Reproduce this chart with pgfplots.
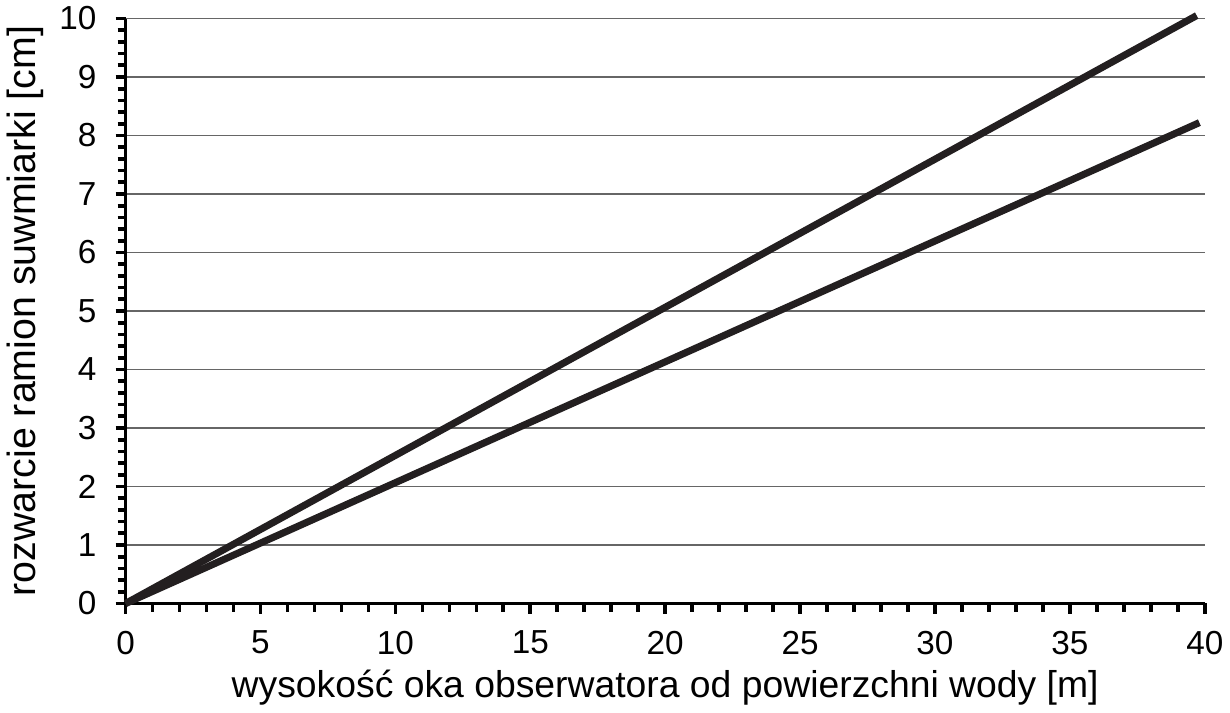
\documentclass[border=0pt]{standalone}
\usepackage{pgfplots}
\pgfplotsset{compat=1.18}
\usepackage{fontspec}
\setmainfont{Liberation Sans}
\definecolor{lineblk}{HTML}{231F20}
\begin{document}
\begin{tikzpicture}
\begin{axis}[
  scale only axis,
  width=535pt, height=290pt,
  xmin=0, xmax=40, ymin=0, ymax=10,
  axis x line=bottom, axis y line=left,
  axis line style={line width=1.5pt, -},
  xtick={0,5,...,40}, ytick={0,1,...,10},
  minor x tick num=4, minor y tick num=4,
  tick align=outside,
  major tick length=5pt, minor tick length=4pt,
  tick style={line width=1.8pt, black},
  ymajorgrids,
  major grid style={line width=0.6pt, gray!80!black},
  /pgf/number format/assume math mode=true,
  ticklabel style={font=\fontsize{16.5}{18}\selectfont},
  xticklabel style={yshift=-5pt},
  yticklabel style={xshift=-6pt},
  xlabel style={font=\fontsize{18.5}{20}\selectfont, yshift=-1pt},
  ylabel style={font=\fontsize{19.5}{21}\selectfont, yshift=1pt},
  xlabel={wysokość oka obserwatora od powierzchni wody [m]},
  ylabel={rozwarcie ramion suwmiarki [cm]},
  clip=false,
]
\addplot[lineblk, line width=3.5pt] coordinates {(0,0) (39.7,10.05)};
\addplot[lineblk, line width=3.5pt] coordinates {(0,0) (39.8,8.22)};
\end{axis}
\end{tikzpicture}
\end{document}
